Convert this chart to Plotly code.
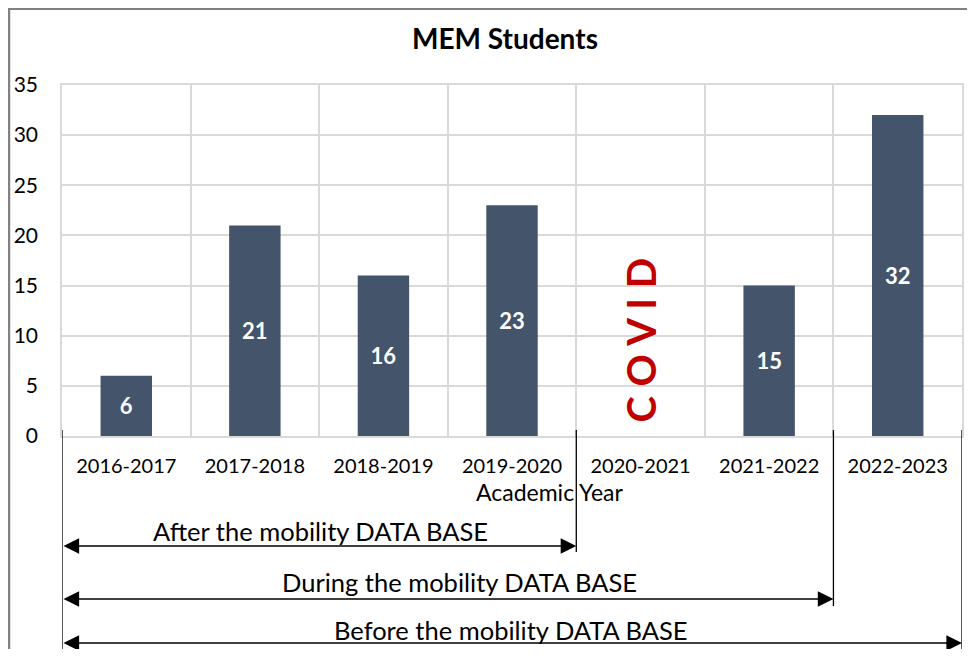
import plotly.graph_objects as go

categories = ["2016-2017", "2017-2018", "2018-2019", "2019-2020", "2020-2021", "2021-2022", "2022-2023"]
students = [6, 21, 16, 23, None, 15, 32]
y_ticks = [0, 5, 10, 15, 20, 25, 30, 35]
title_text = "MEM Students"
x_title = "Academic Year"
covid_label = "C O V I D"
periods = ["After the mobility DATA BASE", "During the mobility DATA BASE", "Before the mobility DATA BASE"]
period_end_idx = [3.5, 5.5, 6.5]

FONT = "Lato, 'Open Sans', sans-serif"
BAR = "#44546A"
GRID = "#D9D9D9"

OFF = 8  # page body offset
W, H = 975 - 2 * OFF, 657 - 2 * OFF
# plot area in screen pixels
L, R, T, B = 62, 964, 85, 436

fig = go.Figure()
fig.add_trace(go.Bar(
    x=categories, y=students,
    marker=dict(color=BAR, line=dict(width=0)),
    width=0.4,
    texttemplate="%{y}", textposition="inside", insidetextanchor="middle",
    textfont=dict(color="white", size=22, family=FONT, weight="bold"),
    hoverinfo="x+y",
))

def py(p):
    return (B - p) / (B - T)
def px(p):
    return (p - L) / (R - L)

shapes = []
# outer frame (top & left)
shapes.append(dict(type="line", xref="paper", yref="paper", x0=px(8), x1=px(990), y0=py(9), y1=py(9),
                   line=dict(color="#808080", width=2.2)))
shapes.append(dict(type="line", xref="paper", yref="paper", x0=px(9), x1=px(9), y0=py(8), y1=py(700),
                   line=dict(color="#808080", width=2.2)))
# black vertical separator lines
vlines = [(-0.5, 700), (3.5, 552), (5.5, 606), (6.5, 651)]
for xv, ybot in vlines:
    shapes.append(dict(type="line", xref="x", yref="paper", x0=xv, x1=xv, y0=py(430), y1=py(ybot),
                       line=dict(color="black", width=1.3)))

annotations = []
annotations.append(dict(text=f"<b>{title_text}</b>", xref="paper", yref="paper", x=px(506), y=py(38),
                        showarrow=False, font=dict(size=28, family=FONT, color="black"),
                        xanchor="center", yanchor="middle"))
annotations.append(dict(text=x_title, xref="paper", yref="paper", x=px(551), y=py(492),
                        showarrow=False, font=dict(size=23, family=FONT, color="black"),
                        xanchor="center", yanchor="middle"))
annotations.append(dict(text=covid_label, xref="x", yref="y", x="2020-2021", y=(B - 340) / ((B - T) / 35),
                        showarrow=False, textangle=-90,
                        font=dict(size=40, family=FONT, color="#C00000", weight="bold"),
                        xanchor="center", yanchor="middle"))

arrow_y = [546, 599, 643]
text_y = [531, 582, 630]
text_x = [321, 460, 512]
for lbl, xe, ay_, ty, tx in zip(periods, period_end_idx, arrow_y, text_y, text_x):
    annotations.append(dict(text="", xref="x", yref="paper", x=xe, y=py(ay_),
                            axref="x", ayref="pixel", ax=-0.5, ay=0,
                            showarrow=True, arrowside="end+start", arrowhead=2,
                            arrowsize=2.4, arrowwidth=1.3, arrowcolor="black", standoff=0, startstandoff=0))
    annotations.append(dict(text=lbl, xref="paper", yref="paper", x=px(tx), y=py(ty),
                            showarrow=False, font=dict(size=25.5, family=FONT, color="black"),
                            xanchor="center", yanchor="middle"))

fig.update_layout(
    width=W, height=H,
    margin=dict(l=L - OFF, r=W - (R - OFF), t=T - OFF, b=H - (B - OFF), pad=0),
    paper_bgcolor="white", plot_bgcolor="white",
    showlegend=False,
    font=dict(family=FONT, color="black"),
    bargap=0.6,
    shapes=shapes, annotations=annotations,
    xaxis=dict(type="category", categoryorder="array", categoryarray=categories,
               range=[-0.5, 6.5], showgrid=True, gridcolor=GRID, gridwidth=1.5,
               tickson="boundaries", ticks="", showline=True, linecolor=GRID, linewidth=1.5, mirror=True,
               tickfont=dict(size=20, family=FONT, color="black"), ticklabelstandoff=11,
               zeroline=False),
    yaxis=dict(range=[0, 35], tickvals=y_ticks, showgrid=True, gridcolor=GRID, gridwidth=1.5,
               showline=True, linecolor=GRID, linewidth=1.5, mirror=True, zeroline=False,
               ticks="", tickfont=dict(size=21, family=FONT, color="black"), ticklabelstandoff=18),
)

fig.write_html("out.html")
